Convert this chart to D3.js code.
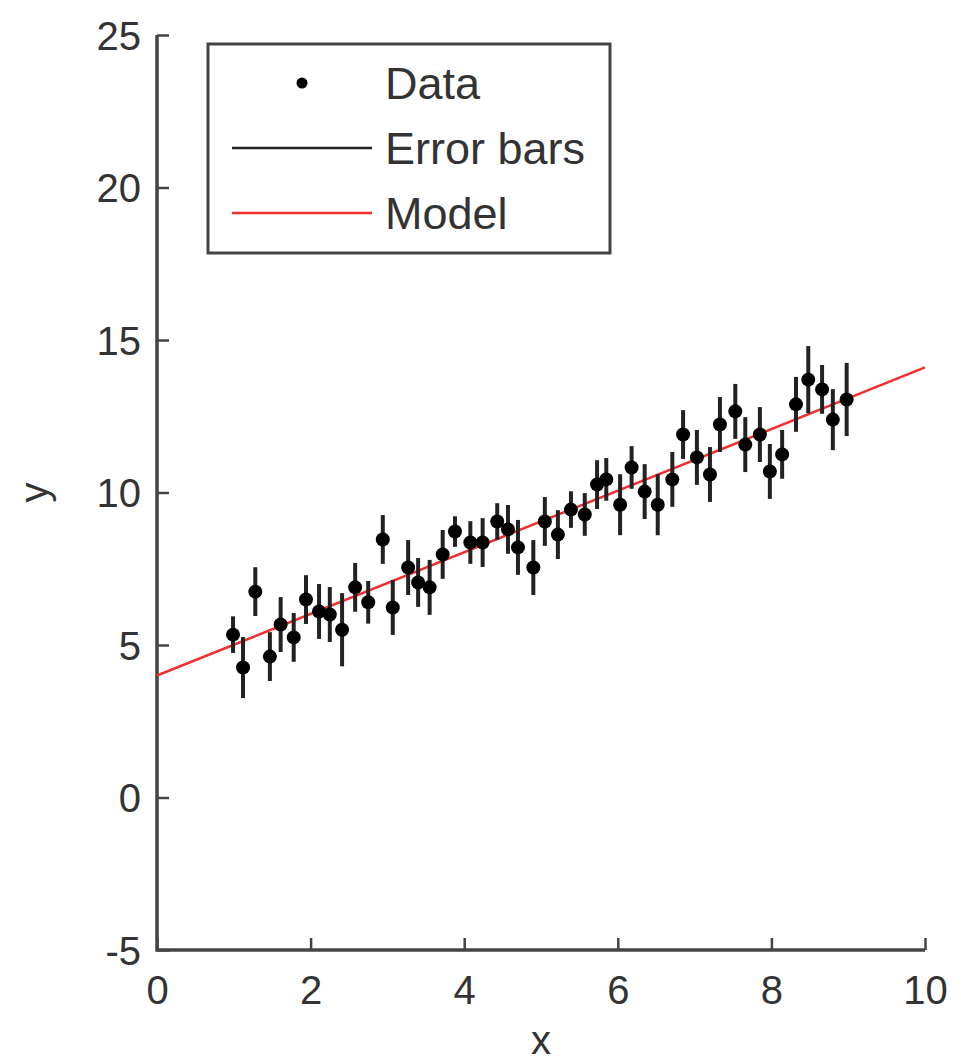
<!DOCTYPE html>
<html>
<head>
<meta charset="utf-8">
<script src="https://cdnjs.cloudflare.com/ajax/libs/d3/7.8.5/d3.min.js"></script>
<style>
  body { margin: 0; background: #fff; }
  text { font-family: "Liberation Sans", Arial, sans-serif; fill: #333; }
</style>
</head>
<body>
<div id="chart"></div>
<script>
// data
const xs = [0.99,1.12,1.28,1.47,1.61,1.78,1.94,2.11,2.25,2.41,2.58,2.75,2.94,3.07,3.27,3.40,3.55,3.72,3.88,4.08,
            4.24,4.43,4.57,4.70,4.90,5.05,5.22,5.39,5.57,5.73,5.85,6.03,6.18,6.35,6.52,6.71,6.85,7.03,7.20,7.33,
            7.53,7.66,7.85,7.98,8.14,8.32,8.48,8.66,8.80,8.98]
const ys = [5.34,4.26,6.75,4.62,5.67,5.25,6.49,6.10,6.00,5.50,6.89,6.40,8.46,6.23,7.54,7.05,6.89,7.97,8.72,8.36,
            8.36,9.05,8.79,8.20,7.54,9.05,8.62,9.44,9.28,10.26,10.43,9.60,10.82,10.03,9.60,10.43,11.90,11.15,10.59,12.23,
            12.66,11.57,11.90,10.69,11.25,12.89,13.70,13.38,12.39,13.05]
const errs = [0.6,1.0,0.8,0.8,0.9,0.8,0.8,0.9,0.9,1.2,0.8,0.7,0.8,0.9,0.9,0.8,0.9,0.8,0.5,0.7,
              0.8,0.6,0.8,0.9,0.9,0.8,0.8,0.6,0.7,0.8,0.7,1.0,0.7,0.9,1.0,0.9,0.8,0.9,0.9,0.9,
              0.9,0.9,0.9,0.9,0.8,0.9,1.1,0.8,1.0,1.2]
const modelX = [0, 10]
const modelY = [4, 14.1]
const xTicks = [0,2,4,6,8,10]
const yTicks = [-5,0,5,10,15,20,25]
const legendLabels = ["Data", "Error bars", "Model"]

const width = 961
const height = 1064

const svg = d3.select('#chart')
  .append("svg")
  .attr("width", width)
  .attr("height", height)

var x = d3.scaleLinear().domain([0, 10]).range([157, 925])
var y = d3.scaleLinear().domain([-5, 25]).range([950, 35])

const axisColor = "#444"
const fmt = function(d) { return String(d) }  // plain hyphen minus, like the original

// axes, ticks inward like matlab
const gx = svg.append("g")
  .attr("transform", "translate(0," + y(-5) + ")")
  .call(d3.axisTop(x).tickValues(xTicks).tickSize(12).tickFormat(fmt))
gx.select(".domain").remove()
gx.selectAll(".tick line").attr("stroke", axisColor).attr("stroke-width", 2.5)
gx.selectAll(".tick text")
  .attr("y", 54).attr("dy", 0)
  .style("font-size", "40px").attr("fill", "#333")

const gy = svg.append("g")
  .attr("transform", "translate(" + x(0) + ",0)")
  .call(d3.axisRight(y).tickValues(yTicks).tickSize(12).tickFormat(fmt))
gy.select(".domain").remove()
gy.selectAll(".tick line").attr("stroke", axisColor).attr("stroke-width", 2.5)
gy.selectAll(".tick text")
  .attr("x", -16).attr("dy", "0.35em")
  .attr("text-anchor", "end")
  .style("font-size", "40px").attr("fill", "#333")

svg.append("path")
  .attr("d", "M" + x(0) + "," + y(25) + "V" + y(-5) + "H" + x(10))
  .attr("fill", "none")
  .attr("stroke", axisColor)
  .attr("stroke-width", 3.5)

svg.append("text")
  .attr("x", x(5)).attr("y", 1054)
  .attr("text-anchor", "middle")
  .style("font-size", "40px")
  .text("x")

svg.append("text")
  .attr("transform", "translate(48," + y(10) + ") rotate(-90)")
  .attr("text-anchor", "middle")
  .style("font-size", "40px")
  .text("y")

// model line
svg.append("path")
  .datum(d3.zip(modelX, modelY))
  .attr("fill", "none")
  .attr("stroke", "#f03030")
  .attr("stroke-width", 2.5)
  .attr("d", d3.line()
    .x(function(d) { return x(d[0]) })
    .y(function(d) { return y(d[1]) }))

const pts = d3.zip(xs, ys, errs)

// error bars
svg.append("g")
  .selectAll("line")
  .data(pts)
  .enter()
  .append("line")
    .attr("x1", function(d) { return x(d[0]) })
    .attr("x2", function(d) { return x(d[0]) })
    .attr("y1", function(d) { return y(d[1] - d[2]) })
    .attr("y2", function(d) { return y(d[1] + d[2]) })
    .attr("stroke", "#222")
    .attr("stroke-width", 4)

// points
svg.append("g")
  .selectAll("circle")
  .data(pts)
  .enter()
  .append("circle")
    .attr("cx", function(d) { return x(d[0]) })
    .attr("cy", function(d) { return y(d[1]) })
    .attr("r", 7)
    .attr("fill", "#000")

// legend
const leg = svg.append("g")
leg.append("rect")
  .attr("x", 208).attr("y", 44)
  .attr("width", 402).attr("height", 209)
  .attr("fill", "#fff")
  .attr("stroke", axisColor)
  .attr("stroke-width", 3)

const rowY = [83, 148, 213]
leg.append("circle")
  .attr("cx", 302).attr("cy", rowY[0]).attr("r", 5.5).attr("fill", "#000")
leg.append("line")
  .attr("x1", 232).attr("x2", 372).attr("y1", rowY[1]).attr("y2", rowY[1])
  .attr("stroke", "#222").attr("stroke-width", 2.5)
leg.append("line")
  .attr("x1", 232).attr("x2", 372).attr("y1", rowY[2]).attr("y2", rowY[2])
  .attr("stroke", "#f03030").attr("stroke-width", 2.5)

leg.selectAll("text.lab")
  .data(legendLabels)
  .enter()
  .append("text")
    .attr("class", "lab")
    .attr("x", 385)
    .attr("y", function(d, i) { return rowY[i] })
    .attr("dy", "0.36em")
    .style("font-size", "45px")
    .text(function(d) { return d })
</script>
</body>
</html>
